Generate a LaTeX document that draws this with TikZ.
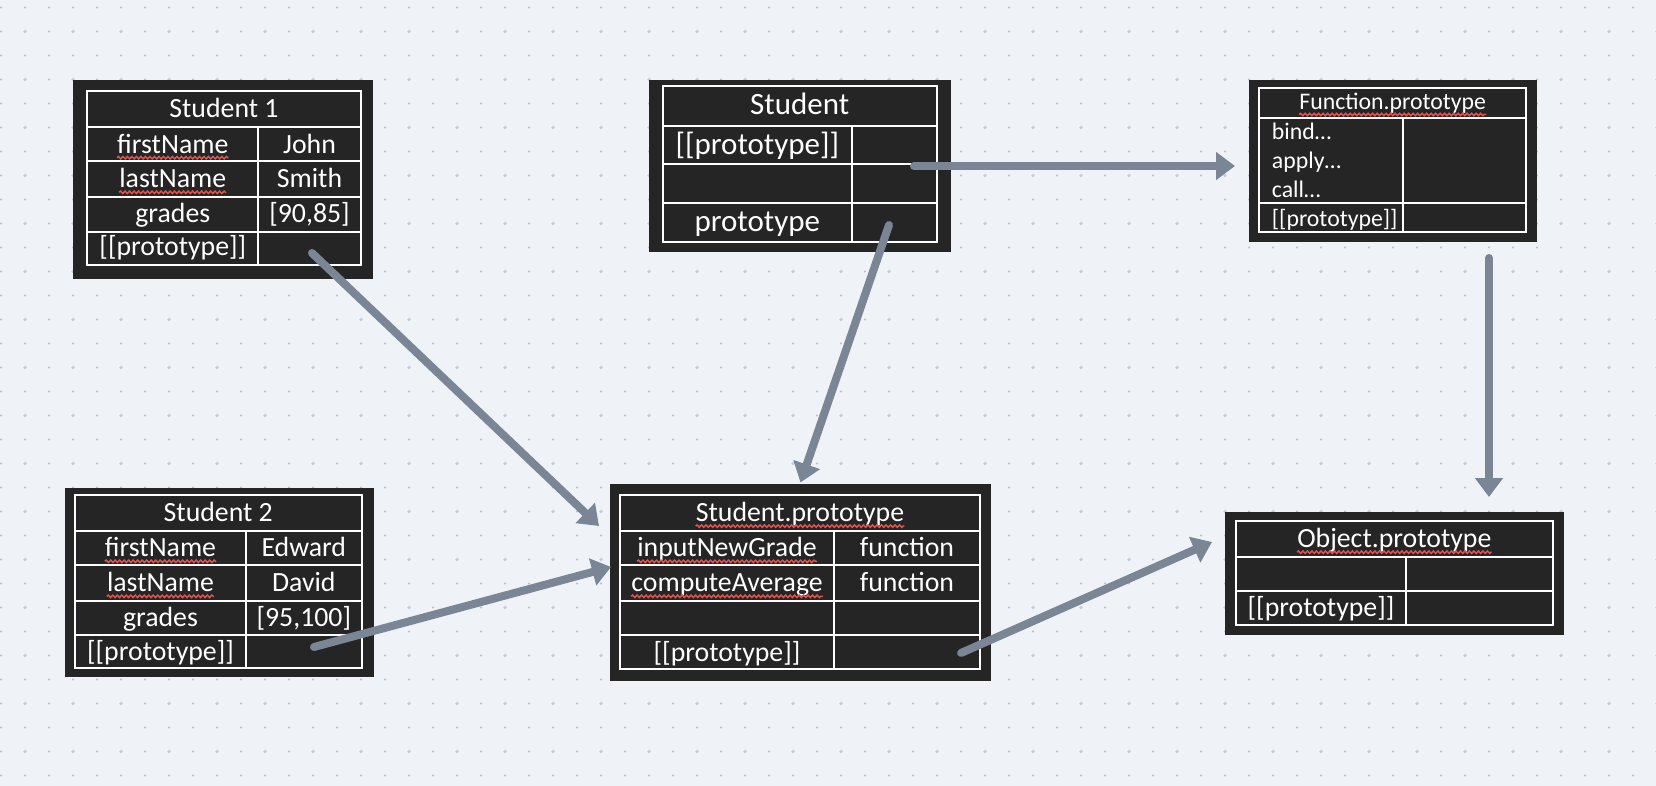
\documentclass[tikz,border=0pt]{standalone}
\usepackage{fontspec}
\setmainfont{Carlito}
\usetikzlibrary{arrows.meta,decorations.pathmorphing}
\definecolor{canvas}{HTML}{EFF3F7}
\definecolor{panel}{HTML}{252525}
\definecolor{dotgray}{HTML}{B8BFCB}
\definecolor{dotblue}{HTML}{C7CFDC}
\definecolor{arrowgray}{HTML}{7A8596}
\definecolor{spellred}{HTML}{E2514B}

\begin{document}
\begin{tikzpicture}[x=1pt,y=-1pt,
    box/.style={fill=panel,inner sep=0pt,anchor=north west},
    tableline/.style={draw=white,line width=2pt},
    cell/.style={text=white,inner sep=0pt,anchor=base,font=\fontsize{27.8}{33}\selectfont},
    bigcell/.style={cell,font=\fontsize{31}{37}\selectfont},
    smallcell/.style={cell,font=\fontsize{23.8}{28}\selectfont},
    link/.style={draw=arrowgray,line width=8pt,line cap=round,-{Triangle[length=19pt,width=27pt]}},
    squiggle/.style={draw=spellred,line width=1.5pt,decorate,decoration={snake,amplitude=1.2pt,segment length=4.5pt}}]
\useasboundingbox (0,0) rectangle (1656,786);
\fill[canvas] (0,0) rectangle (1656,786); % canvas
\foreach \i in {0,...,68} \foreach \j in {0,...,32} \fill[dotgray] (1+24*\i,7.5+24*\j) circle (1.1); % dots
\foreach \i in {0,...,34} \foreach \j in {0,...,15} \fill[dotblue] (25+48*\i,31.5+48*\j) circle (1.8); % big dots

% Student 1
\node[box,minimum width=300.3pt,minimum height=199pt] (student1) at (72.7,80) {};
\draw[tableline] (87.3,90.7) rectangle (360.7,265);
\draw[tableline] (87.3,127.3) -- (360.7,127.3) (87.3,161) -- (360.7,161) (87.3,196.7) -- (360.7,196.7) (87.3,231.7) -- (360.7,231.7);
\draw[tableline] (258.3,127.3) -- (258.3,265);
\node[cell] (s1title) at (224,117.7) {Student 1};
\node[cell] (s1first) at (172.8,153.2) {firstName};
\node[cell] (s1john) at (309.5,153.2) {John};
\node[cell] (s1last) at (172.8,187.8) {lastName};
\node[cell] (s1smith) at (309.5,187.8) {Smith};
\node[cell] (s1grades) at (172.8,223) {grades};
\node[cell] (s1values) at (309.5,223) {[90,85]};
\node[cell] (s1proto) at (172.8,256) {[[prototype]]};

% Student 2
\node[box,minimum width=308.3pt,minimum height=189.4pt] (student2) at (65,487.3) {};
\draw[tableline] (75,495) rectangle (361.7,668.3);
\draw[tableline] (75,530.7) -- (361.7,530.7) (75,565) -- (361.7,565) (75,600.7) -- (361.7,600.7) (75,635) -- (361.7,635);
\draw[tableline] (246,530.7) -- (246,668.3);
\node[cell] (s2title) at (218.3,521.8) {Student 2};
\node[cell] (s2first) at (160.5,556.8) {firstName};
\node[cell] (s2edward) at (303.8,556.8) {Edward};
\node[cell] (s2last) at (160.5,591.8) {lastName};
\node[cell] (s2david) at (303.8,591.8) {David};
\node[cell] (s2grades) at (160.5,626.8) {grades};
\node[cell] (s2values) at (303.8,626.8) {[95,100]};
\node[cell] (s2proto) at (160.5,660.7) {[[prototype]]};

% Student
\node[box,minimum width=302.4pt,minimum height=171.7pt] (student) at (648.3,80) {};
\draw[tableline] (662.7,85.7) rectangle (936.7,241.7);
\draw[tableline] (662.7,125.7) -- (936.7,125.7) (662.7,164) -- (936.7,164) (662.7,203.3) -- (936.7,203.3);
\draw[tableline] (852,125.7) -- (852,241.7);
\node[bigcell] (sttitle) at (799.7,115) {Student};
\node[bigcell] (stproto) at (757.3,154.1) {[[prototype]]};
\node[bigcell] (stprototype) at (757.3,231.8) {prototype};

% Student.prototype
\node[box,minimum width=381.4pt,minimum height=197pt] (studentproto) at (609.3,484) {};
\draw[tableline] (620,494.5) rectangle (980,669.3);
\draw[tableline] (620,530.7) -- (980,530.7) (620,565) -- (980,565) (620,600.7) -- (980,600.7) (620,635) -- (980,635);
\draw[tableline] (834.3,530.7) -- (834.3,669.3);
\node[cell] (sptitle) at (800,521.6) {Student.prototype};
\node[cell] (spinput) at (727,556.8) {inputNewGrade};
\node[cell] (spinputfn) at (907,556.8) {function};
\node[cell] (spcompute) at (727,591.8) {computeAverage};
\node[cell] (spcomputefn) at (907,591.8) {function};
\node[cell] (spproto) at (727,661) {[[prototype]]};

% Function.prototype
\node[box,minimum width=288.7pt,minimum height=161.7pt] (functionproto) at (1248.3,80) {};
\draw[tableline] (1259.3,87.7) rectangle (1526,232.3);
\draw[tableline] (1259.3,117.7) -- (1526,117.7) (1259.3,203.3) -- (1526,203.3);
\draw[tableline] (1402.7,117.7) -- (1402.7,232.3);
\node[smallcell] (fptitle) at (1392.7,110) {Function.prototype};
\node[smallcell,anchor=base west] (fpbind) at (1271.7,140) {bind…};
\node[smallcell,anchor=base west] (fpapply) at (1271.7,169) {apply…};
\node[smallcell,anchor=base west] (fpcall) at (1271.7,197.7) {call…};
\node[smallcell,anchor=base west] (fpproto) at (1271.7,226.5) {[[prototype]]};

% Object.prototype
\node[box,minimum width=338.3pt,minimum height=123.3pt] (objectproto) at (1225,511.7) {};
\draw[tableline] (1236,520.7) rectangle (1552.7,625);
\draw[tableline] (1236,556.7) -- (1552.7,556.7) (1236,590.7) -- (1552.7,590.7);
\draw[tableline] (1406,556.7) -- (1406,625);
\node[cell] (optitle) at (1394.3,547.7) {Object.prototype};
\node[cell] (opproto) at (1321,616.8) {[[prototype]]};

% spelling marks
\foreach \w in {s1first,s1last,s2first,s2last,sptitle,spinput,spcompute,fptitle,optitle}
  \draw[squiggle] ([yshift=-4.5pt]\w.base west) -- ([yshift=-4.5pt]\w.base east);

% links
\coordinate (s1link) at (312,253);
\coordinate (s1tip) at (599,526);
\coordinate (s2link) at (314,647);
\coordinate (s2tip) at (611,567);
\coordinate (stdown) at (889,225);
\coordinate (stdowntip) at (800.5,482.5);
\coordinate (stright) at (914,166);
\coordinate (strighttip) at (1235,166);
\coordinate (fpdown) at (1489,258);
\coordinate (fpdowntip) at (1489,497);
\coordinate (splink) at (961,653);
\coordinate (sptip) at (1212,542);
\draw[link] (s1link) -- (s1tip);
\draw[link] (s2link) -- (s2tip);
\draw[link] (stdown) -- (stdowntip);
\draw[link] (stright) -- (strighttip);
\draw[link] (fpdown) -- (fpdowntip);
\draw[link] (splink) -- (sptip);
\end{tikzpicture}
\end{document}
